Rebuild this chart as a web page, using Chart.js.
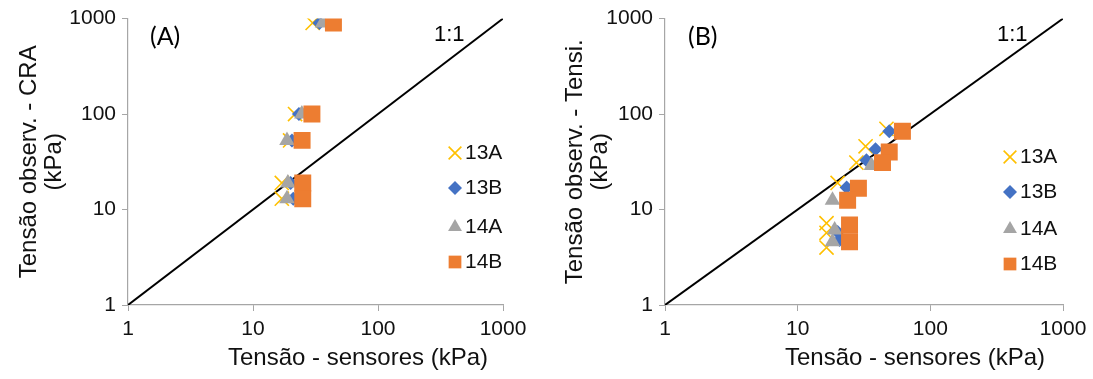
<!DOCTYPE html>
<html>
<head>
<meta charset="utf-8">
<script src="https://cdn.jsdelivr.net/npm/chart.js@4.4.0/dist/chart.umd.min.js"></script>
<style>
  body { margin: 0; background: #fff; }
  .painel { position: absolute; top: 0; height: 379px; }
</style>
</head>
<body>
<div class="painel" style="left:0;width:546px"><canvas id="graficoA"></canvas></div>
<div class="painel" style="left:546px;width:547px"><canvas id="graficoB"></canvas></div>
<script>
const series = ['13A', '13B', '14A', '14B'];
const ticksLog = [1, 10, 100, 1000];

// Painel A - Tensão observada (CRA) x sensores
const a13A_x = [30, 21.7, 19.8, 17, 17];
const a13A_y = [900, 100, 53, 19, 13];
const a13B_x = [34, 23.3, 20.5, 20, 21];
const a13B_y = [900, 100, 53, 19, 13];
const a14A_x = [36, 24.6, 18.7, 19, 18.7];
const a14A_y = [900, 100, 53, 19, 13];
const a14B_x = [44, 29.6, 24.7, 25, 25];
const a14B_y = [900, 100, 53, 19, 13];

// Painel B - Tensão observada (tensiômetro) x sensores
const b13A_x = [46.7, 32.5, 27.7, 20, 16.5, 16.5, 16.5];
const b13A_y = [70, 46, 31, 19, 7.2, 5.7, 4.0];
const b13B_x = [49, 38.6, 33, 23.4, 20, 20.7];
const b13B_y = [66, 42.8, 32.8, 17, 5.8, 4.8];
const b14A_x = [36, 18.3, 19, 18.3];
const b14A_y = [29, 12.5, 6.1, 4.6];
const b14B_x = [61.6, 49, 43.6, 28.7, 23.8, 24.6, 24.6];
const b14B_y = [66, 40, 31, 16.7, 12.5, 6.9, 4.6];

const cores = ['#FFC000', '#4472C4', '#A5A5A5', '#ED7D31'];
const estilos = [
  { pointStyle: 'crossRot', radius: 10, borderWidth: 1.6 },
  { pointStyle: 'rectRot', radius: 7, borderWidth: 0 },
  { pointStyle: 'triangle', radius: 9, borderWidth: 0 },
  { pointStyle: 'rect', radius: 12, borderWidth: 0 }
];

Chart.defaults.font.family = '"Liberation Sans", Arial, sans-serif';
Chart.defaults.color = '#111';

function pontos(xs, ys) {
  return xs.map((x, i) => ({ x: x, y: ys[i] }));
}

function montaDatasets(dados) {
  const ds = dados.map((d, i) => ({
    label: series[i],
    data: pontos(d[0], d[1]),
    showLine: false,
    pointStyle: estilos[i].pointStyle,
    pointRadius: estilos[i].radius,
    pointHoverRadius: estilos[i].radius,
    pointBorderWidth: estilos[i].borderWidth,
    pointBackgroundColor: cores[i],
    pointBorderColor: cores[i],
    order: 4 - i
  }));
  ds.push({
    type: 'line',
    label: '1:1',
    data: [{ x: 1, y: 1 }, { x: 1000, y: 1000 }],
    borderColor: '#000',
    borderWidth: 2,
    pointRadius: 0,
    order: 10
  });
  return ds;
}

// legenda, título do eixo x e textos desenhados por cima
const textosPlugin = {
  id: 'textos',
  afterDraw(chart, args, opts) {
    const ctx = chart.ctx;
    ctx.save();
    ctx.fillStyle = '#000';
    ctx.textBaseline = 'middle';
    ctx.font = '25px Lato, "Open Sans", sans-serif';
    ctx.fillText(opts.letra, opts.letraX, opts.letraY);
    ctx.font = '22px "Liberation Sans", Arial, sans-serif';
    ctx.fillText('1:1', opts.umX, opts.umY);
    ctx.fillStyle = '#111';
    ctx.font = '24px "Liberation Sans", Arial, sans-serif';
    ctx.textAlign = 'center';
    ctx.fillText('Tensão - sensores (kPa)', opts.tituloX, 358);
    ctx.textAlign = 'left';
    series.forEach((nome, i) => {
      const y = opts.legY[i];
      ctx.fillStyle = cores[i];
      ctx.strokeStyle = cores[i];
      ctx.lineWidth = estilos[i].borderWidth;
      const r = i === 1 ? estilos[i].radius : (i === 2 ? 8 : 9);
      Chart.helpers.drawPoint(ctx, {
        pointStyle: estilos[i].pointStyle, radius: r, rotation: 0,
        borderWidth: estilos[i].borderWidth
      }, opts.legX, y);
      ctx.fillStyle = '#111';
      ctx.font = '21px "Liberation Sans", Arial, sans-serif';
      ctx.fillText(nome, opts.legX + 10, y);
    });
    ctx.restore();
  }
};

function eixo(titulo, largura, altura) {
  return {
    type: 'logarithmic',
    min: 1,
    max: 1000,
    afterBuildTicks: ax => { ax.ticks = ticksLog.map(v => ({ value: v })); },
    afterFit: ax => {
      if (largura) ax.width = largura;
      if (altura) ax.height = altura;
    },
    ticks: {
      font: { size: 21 },
      padding: 6,
      callback: v => String(v)
    },
    border: { color: '#A6A6A6', width: 1.2 },
    grid: { drawOnChartArea: false, tickLength: 6, color: '#A6A6A6' },
    title: {
      display: !!titulo,
      text: titulo,
      font: { size: 24, lineHeight: 1.05 },
      padding: { top: 17, bottom: 2 }
    }
  };
}

function criaGrafico(id, dados, tituloY, larguraY, padding, textos) {
  return new Chart(document.getElementById(id), {
    type: 'scatter',
    data: { datasets: montaDatasets(dados) },
    options: {
      responsive: true,
      maintainAspectRatio: false,
      animation: false,
      layout: { padding: padding },
      plugins: {
        legend: { display: false },
        tooltip: { enabled: false },
        textos: textos
      },
      scales: {
        x: eixo(null, null, 74),
        y: eixo(tituloY, larguraY, null)
      }
    },
    plugins: [textosPlugin]
  });
}

criaGrafico('graficoA',
  [[a13A_x, a13A_y], [a13B_x, a13B_y], [a14A_x, a14A_y], [a14B_x, a14B_y]],
  ['Tensão observ. - CRA', '(kPa)'], 128,
  { left: 0, right: 43, top: 18, bottom: 0 },
  { letra: '(A)', letraX: 150, letraY: 37, umX: 434, umY: 35, tituloX: 358,
    legX: 455, legY: [153, 188, 227, 262] });

criaGrafico('graficoB',
  [[b13A_x, b13A_y], [b13B_x, b13B_y], [b14A_x, b14A_y], [b14B_x, b14B_y]],
  ['Tensão observ. - Tensi.', '(kPa)'], 119,
  { left: 0, right: 30, top: 18, bottom: 0 },
  { letra: '(B)', letraX: 142, letraY: 37, umX: 451, umY: 35, tituloX: 369,
    legX: 464, legY: [157, 192, 229, 264] });
</script>
</body>
</html>
